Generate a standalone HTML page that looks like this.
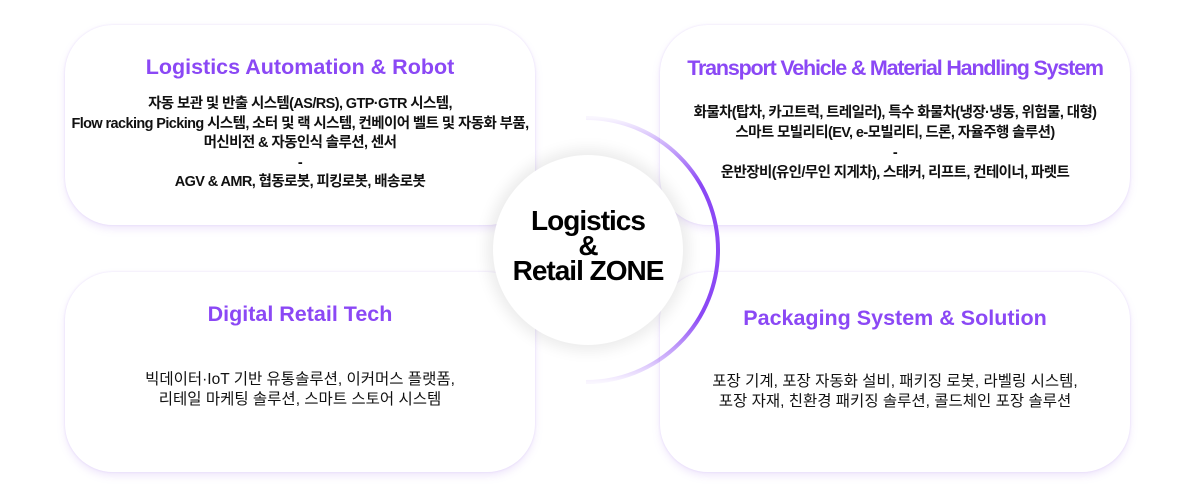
<!DOCTYPE html>
<html><head><meta charset="utf-8"><style>
body{margin:0;width:1200px;height:500px;background:#fff;position:relative;overflow:hidden;font-family:"Liberation Sans","Noto Sans CJK KR",sans-serif;}
.card{position:absolute;width:470px;height:200px;background:#fff;border-radius:48px;box-shadow:0 4px 8px rgba(170,130,240,0.18),0 0 2px rgba(170,130,240,0.25);text-align:center;color:#111;}
.card h2{margin:0;font-size:21.5px;font-weight:bold;color:#8b48f5;}
.card p{margin:0;font-size:14.5px;line-height:19.5px;letter-spacing:-0.6px;font-weight:bold;white-space:nowrap;}
.circle{position:absolute;left:493px;top:155px;width:190px;height:190px;border-radius:50%;background:#fff;box-shadow:0 0 14px 6px rgba(0,0,0,0.08);}
.ct{position:absolute;left:460px;top:208px;width:256px;text-align:center;font-size:28px;font-weight:bold;line-height:25px;letter-spacing:-1px;color:#000;}
</style></head><body>
<div class="card" style="left:65px;top:25px;"><h2 style="margin-top:30px">Logistics Automation &amp; Robot</h2><p style="margin-top:15px">자동 보관 및 반출 시스템(AS/RS), GTP·GTR 시스템,<br>Flow racking Picking 시스템, 소터 및 랙 시스템, 컨베이어 벨트 및 자동화 부품,<br>머신비전 &amp; 자동인식 솔루션, 센서<br>-<br>AGV &amp; AMR, 협동로봇, 피킹로봇, 배송로봇</p></div>
<div class="card" style="left:660px;top:25px;"><h2 style="margin-top:31px;letter-spacing:-1.2px">Transport Vehicle &amp; Material Handling System</h2><p style="margin-top:22px;line-height:20px">화물차(탑차, 카고트럭, 트레일러), 특수 화물차(냉장·냉동, 위험물, 대형)<br>스마트 모빌리티(EV, e-모빌리티, 드론, 자율주행 솔루션)<br>-<br>운반장비(유인/무인 지게차), 스태커, 리프트, 컨테이너, 파렛트</p></div>
<div class="card" style="left:65px;top:272px;"><h2 style="margin-top:30px">Digital Retail Tech</h2><p style="margin-top:43px;font-weight:normal;font-size:15.5px;line-height:20px;letter-spacing:0">빅데이터·IoT 기반 유통솔루션, 이커머스 플랫폼,<br>리테일 마케팅 솔루션, 스마트 스토어 시스템</p></div>
<div class="card" style="left:660px;top:272px;"><h2 style="margin-top:34px">Packaging System &amp; Solution</h2><p style="margin-top:41px;font-weight:normal;font-size:15.5px;line-height:20px;letter-spacing:0">포장 기계, 포장 자동화 설비, 패키징 로봇, 라벨링 시스템,<br>포장 자재, 친환경 패키징 솔루션, 콜드체인 포장 솔루션</p></div>
<div class="circle"></div>
<svg style="position:absolute;left:0;top:0" width="1200" height="500">
<defs><linearGradient id="g" x1="0" y1="0" x2="0" y2="1">
<stop offset="0" stop-color="#8b48f5" stop-opacity="0.05"/><stop offset="0.25" stop-color="#8b48f5"/><stop offset="0.75" stop-color="#8b48f5"/><stop offset="1" stop-color="#8b48f5" stop-opacity="0.05"/></linearGradient></defs>
<path d="M586 118 A132 132 0 0 1 586 382" fill="none" stroke="url(#g)" stroke-width="4"/>
</svg>
<div class="ct">Logistics<br>&amp;<br>Retail ZONE</div>
</body></html>
